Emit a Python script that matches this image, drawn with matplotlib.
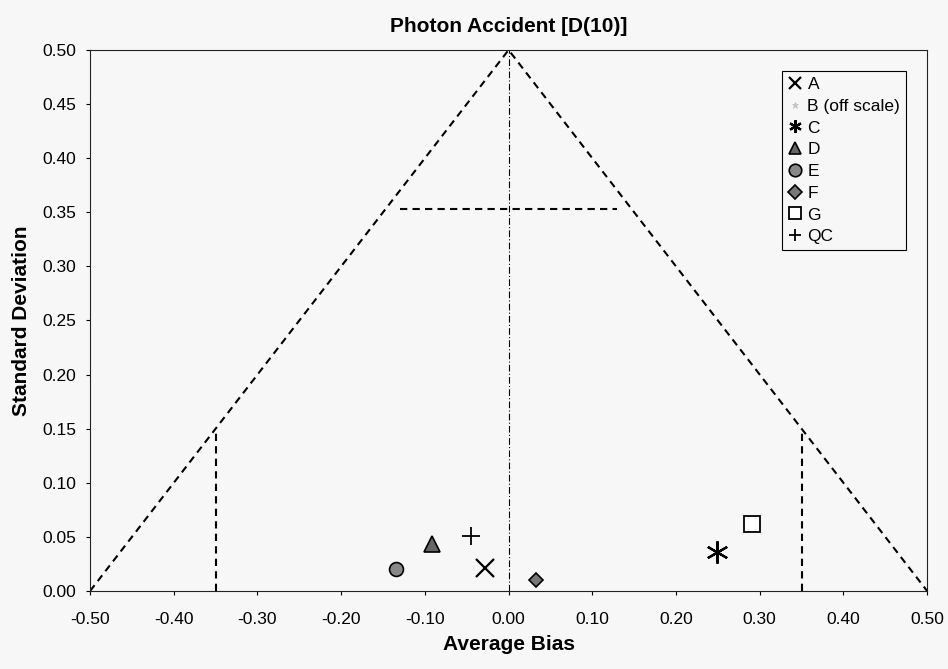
import matplotlib

matplotlib.use("Agg")

import matplotlib.pyplot as plt
from matplotlib.lines import Line2D

plt.rcParams["font.family"] = ["Liberation Sans", "DejaVu Sans"]

BG = "#f7f7f7"

# Labs and their (average bias, standard deviation)
LABS = ["A", "B (off scale)", "C", "D", "E", "F", "G", "QC"]
BIAS = [-0.028, None, 0.249, -0.092, -0.134, 0.033, 0.291, -0.045]
STDEV = [0.021, None, 0.036, 0.043, 0.020, 0.010, 0.062, 0.051]

# Acceptance envelope
TRIANGLE_X = [-0.5, 0.0, 0.5]
TRIANGLE_Y = [0.0, 0.5, 0.0]
TIER_X = [-0.35, 0.35]
TIER_Y = [0.0, 0.15]
HLINE_X = [-0.13, 0.13]
HLINE_Y = 0.353

X_TICKS = [round(-0.5 + 0.1 * i, 2) for i in range(11)]
Y_TICKS = [round(0.05 * i, 2) for i in range(11)]

STYLES = {
    "A": dict(marker="x", ms=13, mew=1.6, mfc="none", mec="black"),
    "B (off scale)": dict(marker="*", ms=5, mew=0.5, mfc="#cccccc", mec="#bbbbbb"),
    "C": dict(marker=(6, 2, 0), ms=16, mew=1.6, mfc="none", mec="black"),
    "D": dict(marker="^", ms=11, mew=1.2, mfc="#666666", mec="black"),
    "E": dict(marker="o", ms=10, mew=1.2, mfc="#888888", mec="black"),
    "F": dict(marker="D", ms=7, mew=1.2, mfc="#777777", mec="black"),
    "G": dict(marker="s", ms=12, mew=1.3, mfc="white", mec="black"),
    "QC": dict(marker="+", ms=13, mew=1.3, mfc="none", mec="black"),
}


def main() -> None:
    fig = plt.figure(figsize=(9.48, 6.69), dpi=100, facecolor=BG)
    ax = fig.add_axes([0.095, 0.1166, 0.883, 0.8087], facecolor=BG)

    dash = dict(color="black", linewidth=1.5, linestyle=(0, (3.5, 2.5)))
    ax.plot(TRIANGLE_X, TRIANGLE_Y, **dash)
    for x in TIER_X:
        ax.plot([x, x], TIER_Y, **dash)
    ax.plot(HLINE_X, [HLINE_Y, HLINE_Y], **dash)
    ax.plot([0.0, 0.0], [0.0, 0.5], color="black", linewidth=0.8,
            linestyle=(0, (6, 2, 1, 2)))

    handles = []
    for lab, x, y in zip(LABS, BIAS, STDEV):
        style = STYLES[lab]
        if x is not None:
            ax.plot([x], [y], linestyle="none", **style)
        handles.append(Line2D([], [], linestyle="none", label=lab, **{
            **style, "ms": min(style["ms"], 9)}))

    leg = ax.legend(handles=handles, loc="upper right", fontsize=12.5,
                    handlelength=0.8, handletextpad=0.3, borderpad=0.35,
                    labelspacing=0.38, borderaxespad=1.2, frameon=True,
                    fancybox=False, edgecolor="black", facecolor=BG,
                    framealpha=1.0)
    leg.get_frame().set_linewidth(0.8)

    ax.set_xlim(-0.5, 0.5)
    ax.set_ylim(0.0, 0.5)
    ax.set_xticks(X_TICKS)
    ax.set_yticks(Y_TICKS)
    ax.set_xticklabels([f"{v:.2f}" for v in X_TICKS])
    ax.set_yticklabels([f"{v:.2f}" for v in Y_TICKS])
    ax.tick_params(labelsize=12.5, direction="out", length=3, width=0.8)
    ax.tick_params(axis="x", pad=12)
    ax.tick_params(axis="y", pad=7)

    for spine in ax.spines.values():
        spine.set_linewidth(0.8)
        spine.set_color("#222222")

    ax.set_title("Photon Accident [D(10)]", fontsize=15, fontweight="bold", pad=13)
    ax.set_xlabel("Average Bias", fontsize=15, fontweight="bold", labelpad=6)
    ax.set_ylabel("Standard Deviation", fontsize=15, fontweight="bold", labelpad=8)

    fig.savefig("out.png", dpi=100, facecolor=BG)
    plt.close(fig)


if __name__ == "__main__":
    main()
